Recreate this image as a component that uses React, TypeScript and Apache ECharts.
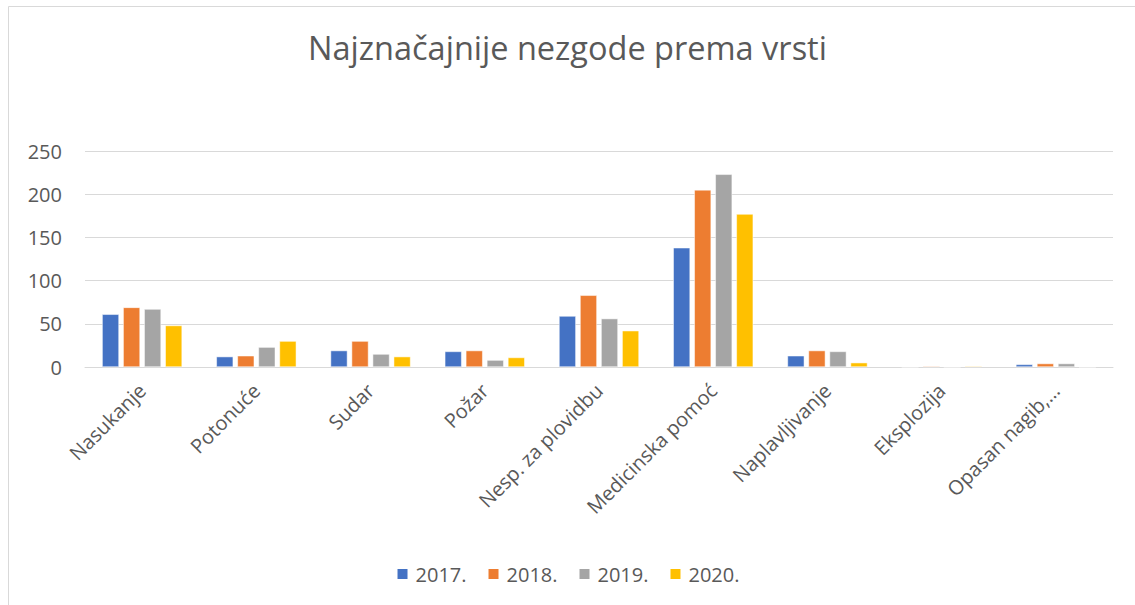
import React, { useEffect, useRef } from "react";
import * as echarts from "echarts";

const categories = [
  "Nasukanje",
  "Potonuće",
  "Sudar",
  "Požar",
  "Nesp. za plovidbu",
  "Medicinska pomoć",
  "Naplavljivanje",
  "Eksplozija",
  "Opasan nagib,…",
];
const seriesNames = ["2017.", "2018.", "2019.", "2020."];
const values2017 = [61, 12, 19, 18, 59, 138, 13, 0, 3];
const values2018 = [69, 13, 30, 19, 83, 205, 19, 1, 4];
const values2019 = [67, 23, 15, 8, 56, 223, 18, 0, 4];
const values2020 = [48, 30, 12, 11, 42, 177, 5, 1, 0];
const colors = ["#4472C4", "#ED7D31", "#A5A5A5", "#FFC000"];
const titleText = "Najznačajnije nezgode prema vrsti";

export default function App() {
  const ref = useRef<HTMLDivElement>(null);
  useEffect(() => {
    if (!ref.current) return;
    const chart = echarts.init(ref.current, null, { renderer: "svg" });
    const allValues = [values2017, values2018, values2019, values2020];
    const font = "'Open Sans', 'Noto Sans', sans-serif";
    chart.setOption({
      animation: false,
      backgroundColor: "#ffffff",
      textStyle: { fontFamily: font },
      graphic: [
        {
          type: "rect",
          shape: { x: 8.5, y: 6.5, width: 1200, height: 700 },
          style: { fill: "none", stroke: "#d9d9d9", lineWidth: 1 },
          silent: true,
        },
      ],
      title: {
        text: titleText,
        left: "center",
        top: 26,
        textStyle: {
          fontFamily: font,
          fontSize: 32.5,
          fontWeight: "normal",
          color: "#595959",
        },
      },
      legend: {
        bottom: 16,
        left: "center",
        itemWidth: 12,
        itemHeight: 12,
        itemGap: 20,
        icon: "rect",
        textStyle: { fontFamily: font, fontSize: 20, color: "#595959", padding: [0, 0, 0, 2] },
        data: seriesNames,
      },
      grid: { left: 85, right: 22, top: 151, bottom: 238, containLabel: false },
      xAxis: {
        type: "category",
        data: categories,
        axisLine: { lineStyle: { color: "#d9d9d9", width: 1 } },
        axisTick: { show: false },
        axisLabel: {
          rotate: 45,
          interval: 0,
          fontFamily: font,
          fontSize: 20,
          color: "#595959",
          margin: 20,
        },
      },
      yAxis: {
        type: "value",
        min: 0,
        max: 250,
        interval: 50,
        axisLine: { show: false },
        axisTick: { show: false },
        splitLine: { lineStyle: { color: "#d9d9d9", width: 1 } },
        axisLabel: {
          fontFamily: font,
          fontSize: 20,
          color: "#595959",
          margin: 23,
        },
      },
      series: seriesNames.map((name, i) => ({
        name,
        type: "bar",
        data: allValues[i],
        barGap: "25%",
        barCategoryGap: "30%",
        itemStyle: { color: colors[i], borderColor: "#ffffff", borderWidth: 0.5 },
      })),
    });
    return () => chart.dispose();
  }, []);
  return (
    <div
      ref={ref}
      style={{ position: "absolute", left: 0, top: 0, width: 1135, height: 605 }}
    />
  );
}
